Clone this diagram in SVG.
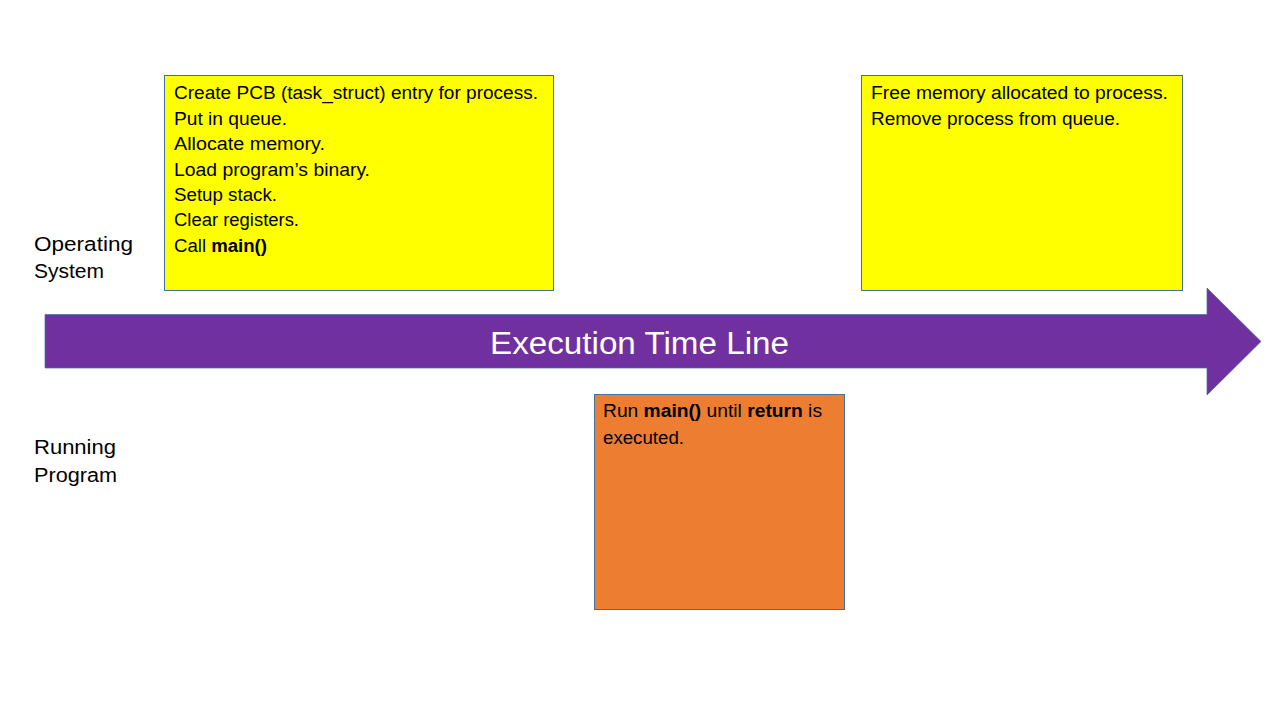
<svg xmlns="http://www.w3.org/2000/svg" width="1280" height="720" viewBox="0 0 1280 720">
<style>
  .box { stroke: #41719C; stroke-width: 1; }
  .yellow { fill: #FFFF00; }
  .orange { fill: #ED7D31; }
  .t { font-family: "Liberation Sans", Arial, sans-serif; font-size: 18px; fill: #000; }
  .lbl { font-family: "Liberation Sans", Arial, sans-serif; font-size: 20px; fill: #000; }
  .b { font-weight: bold; }
  .title { font-family: "Liberation Sans", Arial, sans-serif; font-size: 31px; fill: #FFFFFF; }
</style>
<rect width="1280" height="720" fill="#FFFFFF"/>

<g id="timeline">
  <path d="M45,314.5 H1207 V288 L1261,341.5 L1207,395 V368 H45 Z" fill="#7030A0" stroke="#41719C" stroke-width="1" stroke-opacity="0.7"/>
  <text class="title" x="490" y="354" textLength="299" lengthAdjust="spacingAndGlyphs">Execution Time Line</text>
</g>

<g id="label-os">
  <text class="lbl" x="34" y="251" textLength="99" lengthAdjust="spacingAndGlyphs">Operating</text>
  <text class="lbl" x="34" y="278" textLength="70" lengthAdjust="spacingAndGlyphs">System</text>
</g>

<g id="label-prog">
  <text class="lbl" x="34" y="454" textLength="82" lengthAdjust="spacingAndGlyphs">Running</text>
  <text class="lbl" x="34" y="482" textLength="83" lengthAdjust="spacingAndGlyphs">Program</text>
</g>

<g id="os-start">
  <rect class="box yellow" x="164.5" y="75.5" width="389" height="215"/>
  <text class="t" x="174" y="99" textLength="364" lengthAdjust="spacingAndGlyphs">Create PCB (task_struct) entry for process.</text>
  <text class="t" x="174" y="125" textLength="113" lengthAdjust="spacingAndGlyphs">Put in queue.</text>
  <text class="t" x="174" y="150" textLength="151" lengthAdjust="spacingAndGlyphs">Allocate memory.</text>
  <text class="t" x="174" y="175.5" textLength="196" lengthAdjust="spacingAndGlyphs">Load program’s binary.</text>
  <text class="t" x="174" y="201" textLength="103" lengthAdjust="spacingAndGlyphs">Setup stack.</text>
  <text class="t" x="174" y="226" textLength="125" lengthAdjust="spacingAndGlyphs">Clear registers.</text>
  <text class="t" x="174" y="252" textLength="93" lengthAdjust="spacingAndGlyphs">Call <tspan class="b">main()</tspan></text>
</g>

<g id="os-end">
  <rect class="box yellow" x="861.5" y="75.5" width="321" height="215"/>
  <text class="t" x="871" y="99" textLength="297" lengthAdjust="spacingAndGlyphs">Free memory allocated to process.</text>
  <text class="t" x="871" y="124.5" textLength="249" lengthAdjust="spacingAndGlyphs">Remove process from queue.</text>
</g>

<g id="prog-run">
  <rect class="box orange" x="594.5" y="394.5" width="250" height="215"/>
  <text class="t" x="603" y="417" textLength="219" lengthAdjust="spacingAndGlyphs">Run <tspan class="b">main()</tspan> until <tspan class="b">return</tspan> is</text>
  <text class="t" x="603" y="443.5" textLength="81" lengthAdjust="spacingAndGlyphs">executed.</text>
</g>

<g id="connectors"></g>
</svg>
